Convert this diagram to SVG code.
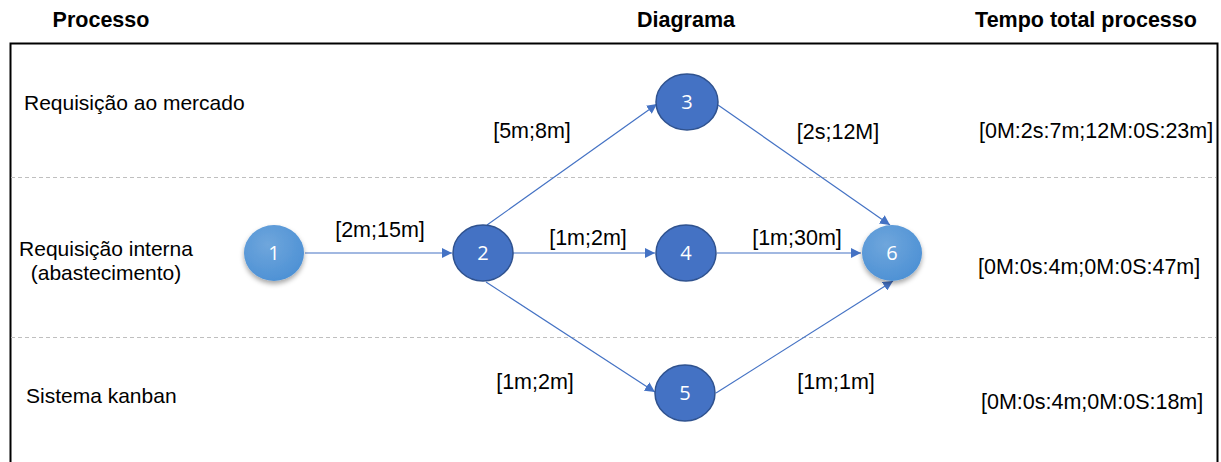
<svg xmlns="http://www.w3.org/2000/svg" width="1221" height="462" viewBox="0 0 1221 462">
<style>
.hdr{font-family:"Liberation Sans",Arial,sans-serif;font-size:21.5px;font-weight:bold;fill:#000}
.lbl{font-family:"Liberation Sans",Arial,sans-serif;font-size:21.5px;fill:#000}
.row{font-family:"Liberation Sans",Arial,sans-serif;font-size:21px;fill:#000}
.num{font-family:"Open Sans","Liberation Sans",sans-serif;font-size:20px;fill:#fff;text-anchor:middle}
.dark{fill:#4472C4;stroke:#2F528F;stroke-width:1.5}
.light{fill:url(#lg)}
.edge{stroke:#4472C4;stroke-width:1.2;fill:none;marker-end:url(#ah)}
.sep{stroke:#BFBFBF;stroke-width:1;stroke-dasharray:4 3}
</style>
<defs>
<radialGradient id="lg" cx="0.4" cy="0.35" r="0.75">
<stop offset="0" stop-color="#6FA6DC"/>
<stop offset="1" stop-color="#4A8FD4"/>
</radialGradient>
<filter id="sh" x="-30%" y="-30%" width="160%" height="170%">
<feDropShadow dx="0" dy="3" stdDeviation="2.5" flood-color="#000" flood-opacity="0.35"/>
</filter>
<marker id="ah" viewBox="0 0 10 10" refX="10" refY="5" markerWidth="10" markerHeight="10" markerUnits="userSpaceOnUse" orient="auto">
<path d="M0,0 L10,5 L0,10 z" fill="#4472C4"/>
</marker>
</defs>
<rect width="1221" height="462" fill="#fff"/>
<text class="hdr" x="101" y="27" text-anchor="middle">Processo</text>
<text class="hdr" x="686" y="27" text-anchor="middle">Diagrama</text>
<text class="hdr" x="1086" y="27" text-anchor="middle">Tempo total processo</text>
<path d="M10.5,470 V43.5 H1217.5 V470" fill="none" stroke="#000" stroke-width="2"/>
<line class="sep" x1="11" y1="177.5" x2="1216" y2="177.5"/>
<line class="sep" x1="11" y1="337.5" x2="1216" y2="337.5"/>
<text class="row" x="24" y="110">Requisição ao mercado</text>
<text class="row" x="106" y="256" text-anchor="middle">Requisição interna</text>
<text class="row" x="106" y="280" text-anchor="middle">(abastecimento)</text>
<text class="row" x="26" y="403">Sistema kanban</text>
<text class="lbl" x="979" y="138">[0M:2s:7m;12M:0S:23m]</text>
<text class="lbl" x="978" y="274">[0M:0s:4m;0M:0S:47m]</text>
<text class="lbl" x="981" y="409">[0M:0s:4m;0M:0S:18m]</text>
<g id="connectors">
<line class="edge" x1="305" y1="253" x2="452" y2="253"/>
<line class="edge" x1="487" y1="225" x2="657" y2="104"/>
<line class="edge" x1="513" y1="253" x2="655" y2="253"/>
<line class="edge" x1="486" y1="282" x2="655" y2="392"/>
<line class="edge" x1="718" y1="105" x2="890" y2="225"/>
<line class="edge" x1="717" y1="253" x2="861" y2="253"/>
<line class="edge" x1="716" y1="393" x2="893" y2="281"/>
<text class="lbl" x="380" y="237" text-anchor="middle">[2m;15m]</text>
<text class="lbl" x="532" y="138" text-anchor="middle">[5m;8m]</text>
<text class="lbl" x="838" y="139" text-anchor="middle">[2s;12M]</text>
<text class="lbl" x="588" y="245" text-anchor="middle">[1m;2m]</text>
<text class="lbl" x="797" y="245" text-anchor="middle">[1m;30m]</text>
<text class="lbl" x="535" y="389" text-anchor="middle">[1m;2m]</text>
<text class="lbl" x="836" y="389" text-anchor="middle">[1m;1m]</text>
</g>
<g id="node1"><ellipse class="light" cx="274" cy="253" rx="30" ry="28" filter="url(#sh)"/><text class="num" x="274" y="260">1</text></g>
<g id="node2"><ellipse class="dark" cx="483" cy="253" rx="30" ry="28"/><text class="num" x="483" y="260">2</text></g>
<g id="node3"><ellipse class="dark" cx="687" cy="102" rx="31" ry="28"/><text class="num" x="687" y="109">3</text></g>
<g id="node4"><ellipse class="dark" cx="686" cy="253" rx="30" ry="28"/><text class="num" x="686" y="260">4</text></g>
<g id="node5"><ellipse class="dark" cx="685" cy="393" rx="30" ry="28"/><text class="num" x="685" y="400">5</text></g>
<g id="node6"><ellipse class="light" cx="892" cy="253" rx="30" ry="28" filter="url(#sh)"/><text class="num" x="892" y="260">6</text></g>
</svg>
